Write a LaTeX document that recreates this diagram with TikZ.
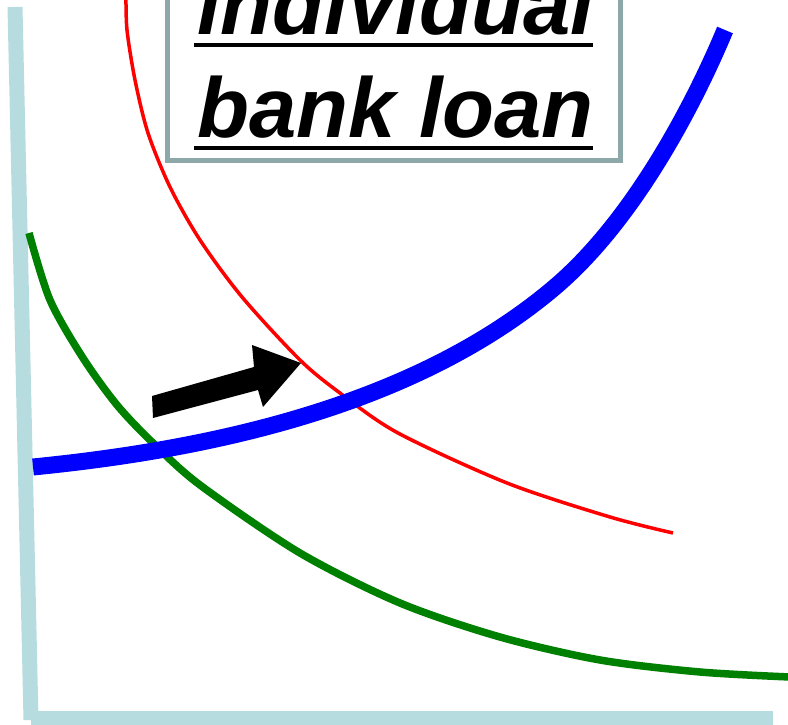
\documentclass[tikz,border=0pt]{standalone}
\usepackage{fontspec}
\setmainfont{Liberation Sans}
\definecolor{axiscol}{HTML}{B7DCDF}
\definecolor{boxcol}{HTML}{8CA8A8}
\definecolor{curveblue}{HTML}{0000FF}
\definecolor{curvegreen}{HTML}{008000}
\definecolor{curvered}{HTML}{FF0000}
\tikzset{
  axisline/.style={draw=axiscol, line width=15pt},
  titletext/.style={inner sep=0pt, anchor=base west, font=\fontsize{85}{103}\selectfont\bfseries\itshape},
  uline/.style={line width=4pt, black},
}
\begin{document}
\begin{tikzpicture}[x=1pt,y=-1pt]
\useasboundingbox (0,0) rectangle (788,725);
\fill[white] (0,0) rectangle (788,725);
% axes
\draw[axisline] (15,7) -- (31,720);
\draw[axisline] (31,718) -- (773,718);
% green curve
\draw[curvegreen, line width=7.5pt] plot[smooth] coordinates {(29,233) (50,300) (83,358) (117,405) (153,443) (200,485) (300,553) (400,603) (500,637) (600,660) (700,672) (790,677)};
% red curve
\draw[curvered, line width=3.5pt] plot[smooth] coordinates {(126,-5) (127,30) (135,80) (148,133) (170,187) (200,240) (242,297) (300,360) (340,393) (398,433) (507,483) (610,517) (673,533)};
% blue curve
\draw[curveblue, line width=17pt] (33,467) .. controls (183,452) and (405,414.5) .. (555,287) .. controls (635,219) and (695,102) .. (725,30);
% arrow
\fill[black] (152,396) -- (254,367) -- (252,345) -- (301,363) -- (263,407) -- (258,390) -- (153,418) -- cycle;
% label box
\draw[boxcol, line width=5pt, fill=white] (167.5,-20) rectangle (620.5,160.5);
\node[titletext] (t1) at (197,35) {individual};
\node[titletext] (t2) at (197,138) {bank loan};
\draw[uline] (194,45) -- (593,45);
\draw[uline] (194,148) -- (593,148);
\end{tikzpicture}
\end{document}
